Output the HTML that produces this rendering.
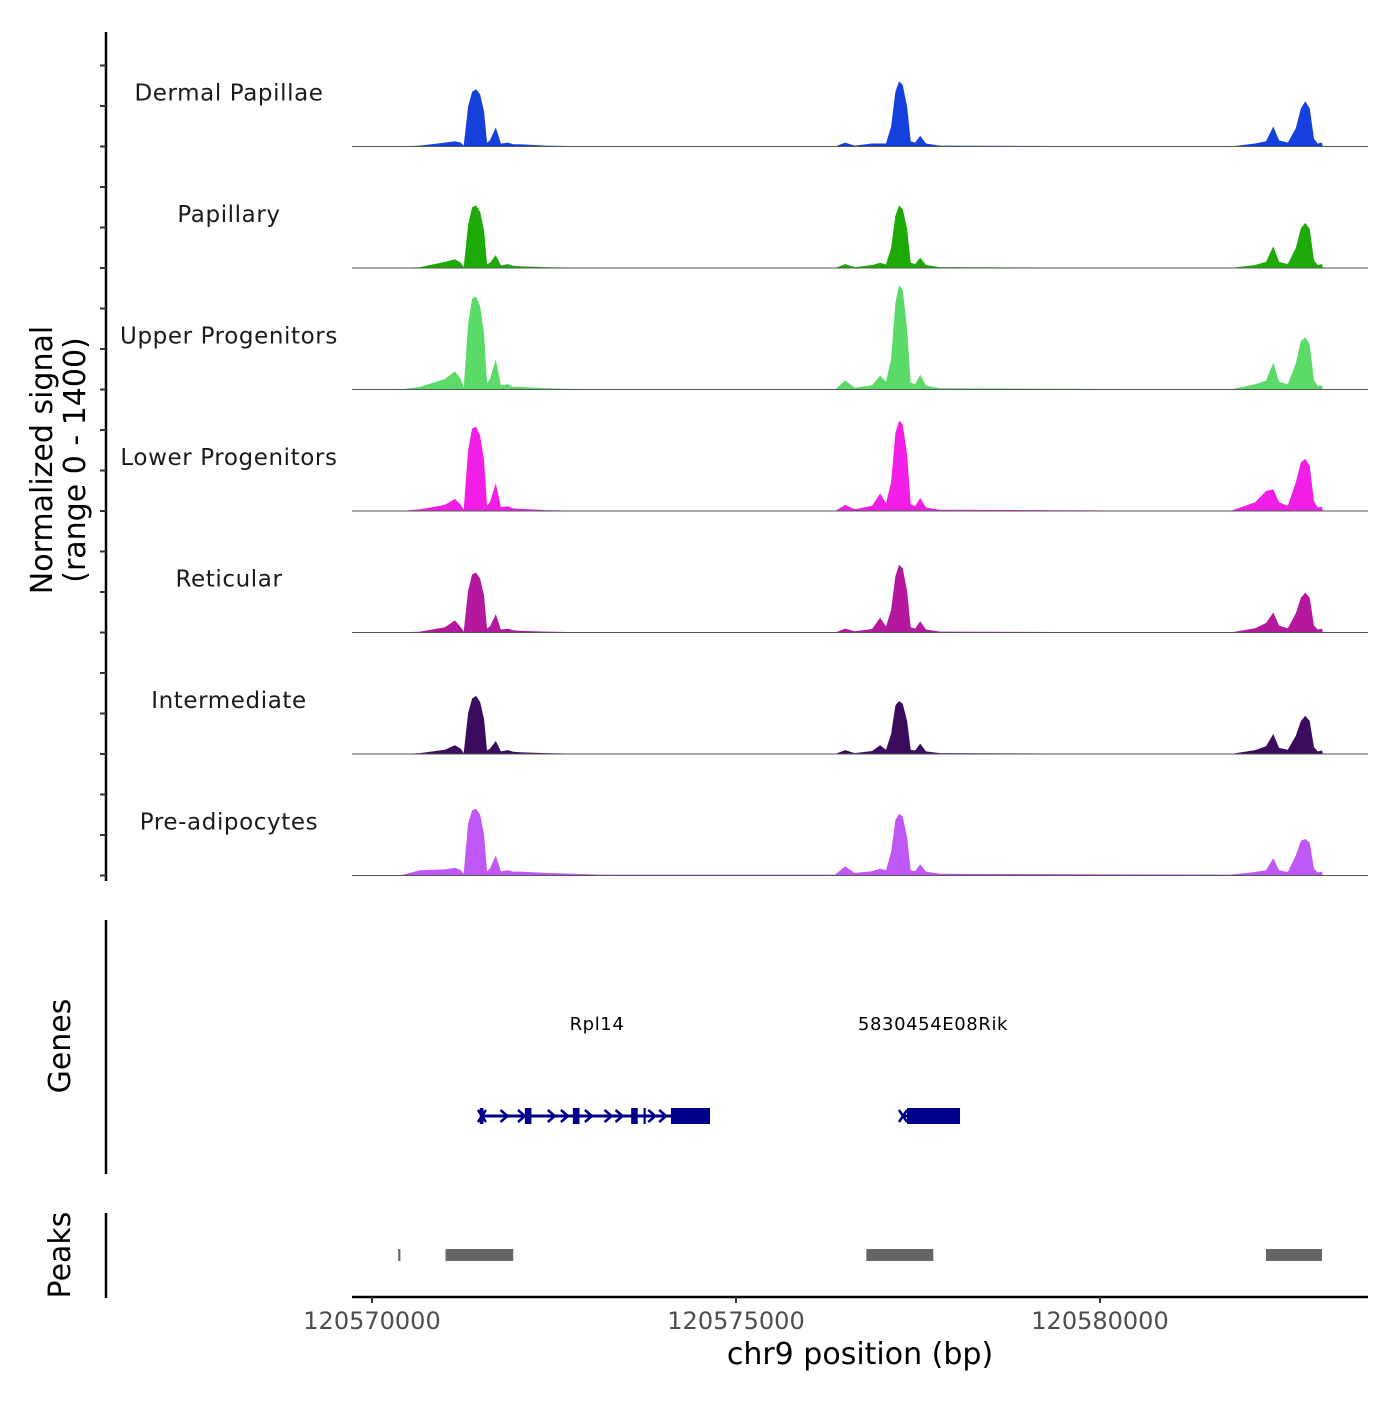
<!DOCTYPE html>
<html><head><meta charset="utf-8"><style>
html,body{margin:0;padding:0;background:#fff;}
svg text{font-family:"DejaVu Sans","Liberation Sans",sans-serif;}
</style></head><body>
<svg id="chart" width="1400" height="1400" xmlns="http://www.w3.org/2000/svg"></svg>
<script>
const trackNames = ["Dermal Papillae","Papillary","Upper Progenitors","Lower Progenitors","Reticular","Intermediate","Pre-adipocytes"];
const trackColors = ["#1640dc","#1daa07","#5adb67","#f01ee6","#b5189f","#3b0b5e","#c058f5"];
const positions = [120569725,120570385,120570660,120571000,120571140,120571220,120571260,120571320,120571375,120571430,120571485,120571540,120571580,120571620,120571700,120571770,120571870,120571940,120572030,120572380,120573130,120576360,120576500,120576630,120576870,120576980,120577060,120577130,120577190,120577240,120577290,120577350,120577400,120577460,120577530,120577610,120577800,120581790,120582130,120582280,120582380,120582460,120582580,120582690,120582760,120582820,120582880,120582940,120582990,120583050,120583060,120583680];
const sigDermal = [0,0,10,45,60,45,10,460,630,660,600,400,45,70,220,35,45,25,25,10,0,0,45,10,35,35,35,230,630,750,710,460,60,45,125,35,10,0,35,60,230,70,45,210,440,520,440,90,35,45,0,0];
const sigPapillary = [0,0,10,70,100,60,10,500,700,720,650,430,45,60,150,30,45,25,20,10,0,0,45,10,35,60,40,230,600,720,680,450,60,45,120,35,10,0,35,70,250,70,45,230,460,520,450,90,35,45,0,0];
const sigUpper = [0,0,30,120,210,120,20,750,1050,1070,960,640,70,120,345,50,60,30,30,15,0,0,105,20,50,160,90,350,1000,1200,1150,700,80,60,170,45,15,0,60,100,310,90,60,300,560,600,520,110,40,50,0,0];
const sigLower = [0,0,20,70,140,70,15,700,950,970,870,580,60,100,320,45,55,30,25,10,0,0,70,20,60,200,90,330,900,1040,1000,650,80,55,150,40,15,0,100,230,250,100,60,330,560,600,520,110,40,50,0,0];
const sigReticular = [0,0,10,60,140,60,10,480,670,690,620,420,45,70,210,35,45,25,20,10,0,0,45,15,40,170,70,260,650,780,740,480,60,45,130,35,10,0,50,110,230,80,50,220,400,460,400,80,35,45,0,0];
const sigIntermediate = [0,0,10,50,100,60,10,470,640,670,600,400,40,60,150,30,45,25,20,10,0,0,45,10,35,100,50,230,560,610,580,380,50,40,120,30,10,0,45,90,230,70,50,210,380,440,380,80,30,40,0,0];
const sigPreadipo = [0,0,60,70,90,60,20,600,750,770,700,470,50,80,230,50,60,45,45,30,10,10,105,30,50,80,60,270,640,710,680,440,60,50,130,45,20,10,40,60,200,60,40,230,400,420,380,80,35,45,0,0];
const signals = [sigDermal,sigPapillary,sigUpper,sigLower,sigReticular,sigIntermediate,sigPreadipo];
const xTicks = [120570000,120575000,120580000];
const peakStarts = [120570360,120571010,120576790,120582280];
const peakEnds = [120570390,120571940,120577710,120583050];
const rpl14Exons = [[120571480,120571530],[120572100,120572190],[120572760,120572850],[120573560,120573650],[120573730,120573760],[120574107,120574643]];
const rpl14Span = [120571510,120574643];
const rpl14Arrows = [120571820,120572060,120572470,120572650,120572980,120573250,120573400,120573850,120574000];
const rik5830Span = [120577294,120578077];
const rik5830Exons = [[120577349,120578077]];

const svg = document.getElementById('chart');
const NS = 'http://www.w3.org/2000/svg';
function mk(tag, attrs, parent){const e=document.createElementNS(NS,tag);for(const k in attrs)e.setAttribute(k,attrs[k]);(parent||svg).appendChild(e);return e;}
const X0=352,X1=1368;
function xs(bp){return 372+(bp-120570000)*0.0728;}
const TRACK_H=121.5, BASE0=146.5, YMAX=1400;
function ys(v,i){return BASE0+i*TRACK_H - v/YMAX*TRACK_H;}

let ax=mk('line',{x1:106,y1:32,x2:106,y2:881,stroke:'#000','stroke-width':2.5});

for(let i=0;i<7;i++){for(let j=0;j<3;j++){const y=BASE0+i*TRACK_H-j*40.5;
 const t=mk('line',{x1:100,y1:y,x2:106,y2:y,stroke:'#333','stroke-width':2});
 }}
let yt=mk('text',{x:0,y:0,'font-size':30,'text-anchor':'middle',fill:'#000',transform:'translate(52,460) rotate(-90)'});
yt.textContent='Normalized signal';
let yt2=mk('text',{x:0,y:0,'font-size':30,'text-anchor':'middle',fill:'#000',transform:'translate(85,460) rotate(-90)'});
yt2.textContent='(range 0 - 1400)';

for(let i=0;i<7;i++){
 const g=mk('g',{});
 let d='M'+xs(positions[0])+','+ys(0,i);
 positions.forEach((p,k)=>{d+=' L'+xs(p).toFixed(1)+','+ys(signals[i][k],i).toFixed(1);});
 d+=' L'+xs(positions[positions.length-1])+','+ys(0,i)+' Z';
 const a=mk('path',{d:d,fill:trackColors[i]},g);
 const b=mk('line',{x1:X0,x2:X1,y1:ys(0,i),y2:ys(0,i),stroke:'#555','stroke-width':1},g);
 const l=mk('text',{x:229,y:ys(0,i)-46,'font-size':23,'text-anchor':'middle',fill:'#1a1a1a','letter-spacing':'0.6'},g);
 l.textContent=trackNames[i];
}

let ga=mk('line',{x1:106,y1:920,x2:106,y2:1174,stroke:'#000','stroke-width':2.5});
let gt=mk('text',{x:0,y:0,'font-size':30,'text-anchor':'middle',fill:'#000',transform:'translate(70,1046) rotate(-90)'});
gt.textContent='Genes';
const GC='#00008b',GY=1116;
function drawGene(name,span,exons,arrows,labelX){
 const g=mk('g',{});
 mk('line',{x1:xs(span[0]),x2:xs(span[1]),y1:GY,y2:GY,stroke:GC,'stroke-width':3},g);
 const sx=xs(span[0]);
 mk('path',{d:`M${sx-4},${GY-6} L${sx+4},${GY+6} M${sx-4},${GY+6} L${sx+4},${GY-6}`,stroke:GC,'stroke-width':2.5,fill:'none'},g);
 arrows.forEach(p=>{const x=xs(p);mk('path',{d:`M${x-4},${GY-6} L${x+3},${GY} L${x-4},${GY+6}`,stroke:GC,'stroke-width':2.5,fill:'none'},g);});
 exons.forEach(e=>{const r=mk('rect',{x:xs(e[0]),y:GY-8,width:Math.max(2,xs(e[1])-xs(e[0])),height:16,fill:GC},g);});
 const t=mk('text',{x:labelX,y:1030,'font-size':18,'text-anchor':'middle',fill:'#000','letter-spacing':'0.6'},g);t.textContent=name;
}
drawGene('Rpl14',rpl14Span,rpl14Exons,rpl14Arrows,597);
drawGene('5830454E08Rik',rik5830Span,rik5830Exons,[],933);

let pa=mk('line',{x1:106,y1:1213,x2:106,y2:1298,stroke:'#000','stroke-width':2.5});
let pt=mk('text',{x:0,y:0,'font-size':30,'text-anchor':'middle',fill:'#000',transform:'translate(70,1255) rotate(-90)'});
pt.textContent='Peaks';
peakStarts.forEach((s,i)=>{const r=mk('rect',{x:xs(s),y:1249,width:Math.max(2,xs(peakEnds[i])-xs(s)),height:12,fill:'#666'});
 });

let xa=mk('line',{x1:X0,x2:X1,y1:1297,y2:1297,stroke:'#000','stroke-width':2.5});
xTicks.forEach(v=>{const x=xs(v);
 const t=mk('line',{x1:x,x2:x,y1:1297,y2:1303,stroke:'#333','stroke-width':2});
 const l=mk('text',{x:x,y:1329,'font-size':24,'text-anchor':'middle',fill:'#4d4d4d'});l.textContent=String(v);});
let xt=mk('text',{x:860,y:1364,'font-size':30,'text-anchor':'middle',fill:'#000'});
xt.textContent='chr9 position (bp)';
</script>
</body></html>
